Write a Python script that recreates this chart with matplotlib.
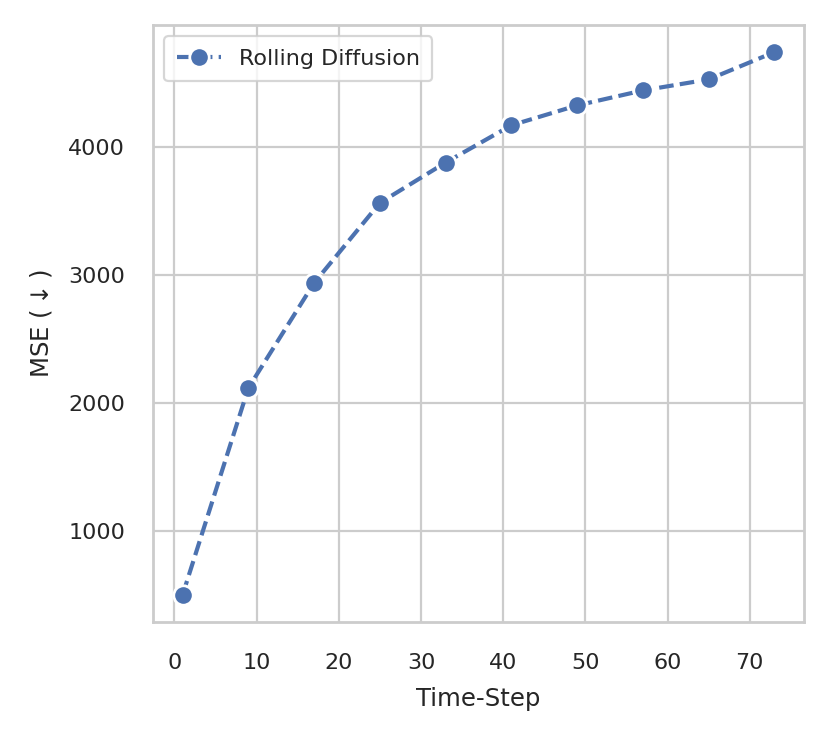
import matplotlib
matplotlib.use("Agg")
import matplotlib.pyplot as plt
import seaborn as sns

time_steps = [1, 9, 17, 25, 33, 41, 49, 57, 65, 73]
mse_values = [500, 2115, 2935, 3560, 3875, 4166, 4321, 4438, 4524, 4737]
series_label = "Rolling Diffusion"

sns.set_theme(context="paper", style="whitegrid")
plt.rcParams["font.family"] = ["DejaVu Sans"]

fig = plt.figure(figsize=(4.15, 3.705), dpi=200)
ax = fig.add_axes([153 / 830, (741 - 622) / 741, 651 / 830, (622 - 25) / 741])

ax.plot(time_steps, mse_values, color="#4c72b0", linestyle="--", dashes=(3.5, 1.5),
        linewidth=1.5, marker="o", markersize=7, markeredgecolor="white",
        markeredgewidth=1.0, label=series_label)

xpad = plt.rcParams["xtick.major.pad"]
ypad = plt.rcParams["ytick.major.pad"]
lpad = plt.rcParams["axes.labelpad"]
ax.set_xlabel("Time-Step", fontsize=8.8, labelpad=lpad + 1.0)
ax.set_ylabel(r"MSE ($\downarrow$)", fontsize=8.8, labelpad=lpad + 1.2)
ax.set_xticks([0, 10, 20, 30, 40, 50, 60, 70])
ax.set_yticks([1000, 2000, 3000, 4000])
ax.tick_params(axis="x", labelsize=8, pad=xpad + 2.9)
ax.tick_params(axis="y", labelsize=8, pad=ypad + 1.8)
ax.legend(loc="upper left", fontsize=8, borderpad=0.56)

fig.savefig("out.png", dpi=200)
